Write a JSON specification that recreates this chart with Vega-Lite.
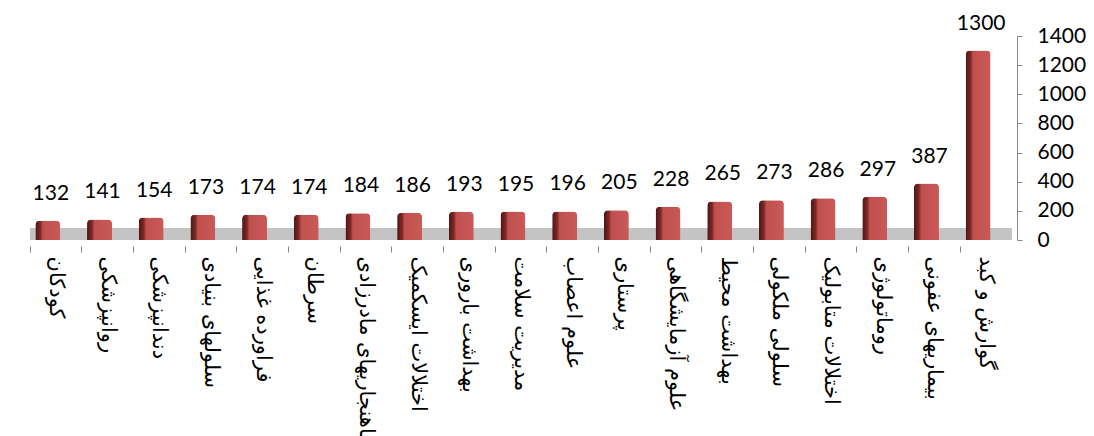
{
  "$schema": "https://vega.github.io/schema/vega-lite/v6.json",
  "width": 982,
  "height": 204,
  "autosize": "none",
  "padding": {"left": 30, "top": 36, "right": 82, "bottom": 196},
  "background": "white",
  "config": {
    "view": {"stroke": null},
    "axisY": {
      "title": null,
      "grid": false,
      "domainColor": "#868686",
      "tickColor": "#868686",
      "tickSize": 5,
      "offset": 5,
      "labelFont": "Lato",
      "labelFontSize": 21,
      "labelColor": "#000000",
      "labelPadding": 15,
      "labelOverlap": false,
      "format": "d"
    },
    "axisX": {
      "title": null,
      "domain": false,
      "ticks": true,
      "tickColor": "#868686",
      "tickSize": 6,
      "offset": 6,
      "bandPosition": 0,
      "labelAngle": 90,
      "labelAlign": "left",
      "labelBaseline": "middle",
      "labelFont": "DejaVu Sans",
      "labelFontSize": 21,
      "labelColor": "#000000",
      "labelPadding": 4,
      "labelLimit": 400,
      "labelOverlap": false
    }
  },
  "data": {
    "values": [
      {"field": "کودکان", "count": 132},
      {"field": "روانپزشکی", "count": 141},
      {"field": "دندانپزشکی", "count": 154},
      {"field": "سلولهای بنیادی", "count": 173},
      {"field": "فراورده غذایی", "count": 174},
      {"field": "سرطان", "count": 174},
      {"field": "ناهنجاریهای مادرزادی", "count": 184},
      {"field": "اختلالات ایسکمیک", "count": 186},
      {"field": "بهداشت باروری", "count": 193},
      {"field": "مدیریت سلامت", "count": 195},
      {"field": "علوم اعصاب", "count": 196},
      {"field": "پرستاری", "count": 205},
      {"field": "علوم آزمایشگاهی", "count": 228},
      {"field": "بهداشت محیط", "count": 265},
      {"field": "سلولی ملکولی", "count": 273},
      {"field": "اختلالات متابولیک", "count": 286},
      {"field": "روماتولوژی", "count": 297},
      {"field": "بیماریهای عفونی", "count": 387},
      {"field": "گوارش و کبد", "count": 1300}
    ]
  },
  "layer": [
    {
      "mark": {"type": "rule", "color": "#c4c4c4", "strokeWidth": 11, "yOffset": -6},
      "encoding": {
        "y": {"datum": 0, "type": "quantitative", "scale": {"domain": [0, 1400], "nice": false}, "axis": {"orient": "right", "values": [0, 200, 400, 600, 800, 1000, 1200, 1400]}}
      }
    },
    {
      "mark": {
        "type": "bar",
        "width": 25,
        "xOffset": -8,
        "cornerRadiusTopLeft": 4,
        "cornerRadiusTopRight": 4,
        "color": {
          "gradient": "linear",
          "x1": 0, "y1": 0, "x2": 1, "y2": 0,
          "stops": [
            {"offset": 0, "color": "#4e1614"},
            {"offset": 0.2, "color": "#7d2826"},
            {"offset": 0.3, "color": "#c0504d"},
            {"offset": 1, "color": "#c95a57"}
          ]
        }
      },
      "encoding": {
        "x": {
          "field": "field",
          "type": "nominal",
          "sort": null,
          "scale": {"paddingInner": 0, "paddingOuter": 0},
          "axis": {"orient": "bottom"}
        },
        "y": {
          "field": "count",
          "type": "quantitative",
          "scale": {"domain": [0, 1400], "nice": false},
          "axis": {"orient": "right", "values": [0, 200, 400, 600, 800, 1000, 1200, 1400]}
        }
      }
    },
    {
      "mark": {
        "type": "text",
        "dy": -21,
        "xOffset": -5,
        "font": "Lato",
        "fontSize": 21,
        "baseline": "alphabetic",
        "color": "#000000"
      },
      "encoding": {
        "x": {"field": "field", "type": "nominal", "sort": null, "axis": {"orient": "bottom"}},
        "y": {"field": "count", "type": "quantitative", "axis": {"orient": "right", "values": [0, 200, 400, 600, 800, 1000, 1200, 1400]}},
        "text": {"field": "count", "type": "quantitative"}
      }
    }
  ]
}
